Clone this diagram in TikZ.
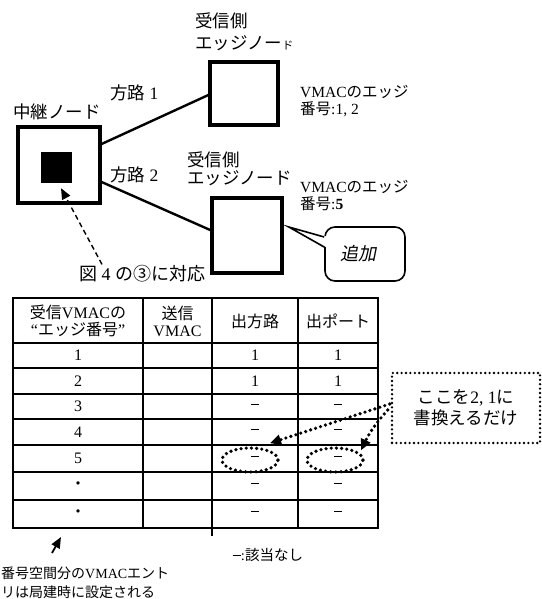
\documentclass[tikz,border=0pt]{standalone}
\usepackage{fontspec}
\setmainfont{Liberation Serif}
\newfontfamily\jf{Noto Sans CJK JP}
\newfontfamily\jfi[FakeSlant=0.2]{Noto Sans CJK JP}
\newcommand\JP[1]{{\jf #1}}
\newcommand\nd{\rule[0.28em]{8pt}{1.1pt}}
\usetikzlibrary{arrows.meta,shapes.geometric}
\begin{document}
\begin{tikzpicture}[x=1pt,y=-1pt,
  lbl/.style={inner sep=0pt, anchor=west, font=\fontsize{17.5}{19}\selectfont},
  lblm/.style={inner sep=0pt, anchor=west, font=\fontsize{15.5}{17}\selectfont},
  lbls/.style={inner sep=0pt, anchor=west, font=\fontsize{14}{16}\selectfont},
  cell/.style={inner sep=0pt, font=\fontsize{16}{17}\selectfont},
  nodebox/.style={draw, line width=3.2pt, inner sep=0pt},
  link/.style={line width=2.4pt},
  grid/.style={line width=2pt},
  dotline/.style={line width=3.6pt, dash pattern=on 0pt off 5.2pt, line cap=round},
  dottip/.style={-{Triangle[length=11pt,width=10pt]}},
]
\useasboundingbox (0,0) rectangle (541,599);

% ---------- network part ----------
\node[nodebox, minimum width=68pt, minimum height=63pt] (e1) at (244,93.5) {};
\node[nodebox, line width=3.6pt, minimum width=70pt, minimum height=75pt] (e2) at (247,235.5) {};
\node[nodebox, minimum width=82pt, minimum height=76pt] (relay) at (59,165) {};
\node[fill=black, inner sep=0pt, minimum size=31pt] (sq) at (56.5,167.5) {};

\node[lbl] (e1a) at (195,21) {\JP{受信側}};
\node[lbl] (e1b) at (195,43) {\JP{エッジノー{\fontsize{11}{11}\selectfont ド}}};
\node[lbl] (rl) at (13,112) {\JP{中継ノード}};
\node[lbl] (p1) at (110,93) {\JP{方路} 1};
\node[lbl] (p2) at (110,175) {\JP{方路} 2};
\node[lbl] (e2a) at (187,160) {\JP{受信側}};
\node[lbl] (e2b) at (187,178) {\JP{エッジノード}};
\node[lblm] (v1a) at (300,92) {VMAC\JP{のエッジ}};
\node[lblm] (v1b) at (300,109) {\JP{番号}:1, 2};
\node[lblm] (v2a) at (300,187) {VMAC\JP{のエッジ}};
\node[lblm] (v2b) at (300,204) {\JP{番号}:\textbf{5}};

\draw[link] ([yshift=21pt]relay.east) -- ([yshift=-1.5pt]e1.west);
\draw[link] ([yshift=-17pt]relay.east) -- ([yshift=5.5pt]e2.west);

% callout
\node[draw, line width=1.6pt, rounded corners=10pt, minimum width=80pt, minimum height=54pt, fill=white] (add) at (365,254) {};
\node[inner sep=0pt, font=\fontsize{18}{19}\selectfont\jfi] (addt) at (358,254) {追加};
\coordinate (tip) at ([xshift=5pt,yshift=8.5pt]e2.east);
\fill[white] (tip) -- ([xshift=2.5pt,yshift=17.5pt]add.west) -- ([xshift=2.5pt,yshift=6.5pt]add.west) -- cycle;
\draw[line width=1.6pt] ([yshift=17pt]add.west) -- (tip) -- ([yshift=7pt]add.west);

% figure reference
\node[inner sep=0pt, font=\fontsize{18}{19}\selectfont] (fig) at (142,274) {\JP{図} 4 \JP{の③に対応}};
\draw[line width=1.4pt, dash pattern=on 5pt off 3.5pt, -{Triangle[length=11pt,width=9pt]}]
  ([xshift=-40pt,yshift=1pt]fig.north) -- ([xshift=4.5pt,yshift=-5pt]sq.south);

% ---------- table ----------
\draw[grid, line width=2.4pt] (13,298) rectangle (378,528);
\foreach \y in {343,368,394,419,445,472,500} \draw[grid] (13,\y) -- (378,\y);
\foreach \x in {143,212,298} \draw[grid] (\x,298) -- (\x,528);
\draw[grid] (212,528) -- (212,536);

\node[cell, align=center] (h1) at (78,321) {\JP{受信}VMAC\JP{の}\\“\JP{エッジ番号}”};
\node[cell, align=center] (h2) at (177.5,321) {\JP{送信}\\VMAC};
\node[cell] (h3) at (255,321) {\JP{出方路}};
\node[cell] (h4) at (338,321) {\JP{出ポート}};

\foreach \y/\a/\b/\c [count=\i] in {355.5/1/1/1, 381/2/1/1, 406.5/3/\nd/\nd, 432/4/\nd/\nd,
    458.5/5/\nd/\nd, 486/\JP{・}/\nd/\nd, 514/\JP{・}/\nd/\nd} {
  \node[cell] (a\i) at (78,\y) {\a};
  \node[cell] (b\i) at (255,\y) {\b};
  \node[cell] (c\i) at (338,\y) {\c};
}

% dotted highlights
\node[draw, dotline, ellipse, minimum width=56pt, minimum height=24pt] (el1) at (250,460) {};
\node[draw, dotline, ellipse, minimum width=56pt, minimum height=24pt] (el2) at (335,460) {};
\node[draw, line width=2.6pt, dash pattern=on 0pt off 4.4pt, line cap=round,
      minimum width=148pt, minimum height=70pt, inner sep=0pt,
      align=center, font=\fontsize{17.5}{21}\selectfont] (note) at (466,408)
  {\JP{ここを}2, 1\JP{に}\\\JP{書換えるだけ}};
\draw[dotline, dottip] ([xshift=-1pt,yshift=4pt]note.west) -- ([xshift=20pt,yshift=3pt]el1.north);
\draw[dotline, dottip] ([xshift=-3pt,yshift=-2pt]note.west) to[bend right=8] ([xshift=5pt]el2.north east);

% bottom notes
\coordinate (ab) at (52,553);
\coordinate (at) at (61,537);
\draw[line width=1.8pt, -{Triangle[length=11pt,width=9pt]}] (ab) -- (at);
\node[inner sep=0pt, font=\fontsize{14.5}{16}\selectfont] (nm) at (268,555) {\nd:\JP{該当なし}};
\node[lbls] (bt1) at (1,573) {\JP{番号空間分の}VMAC\JP{エント}};
\node[lbls] (bt2) at (1,592) {\JP{リは局建時に設定される}};
\end{tikzpicture}
\end{document}
